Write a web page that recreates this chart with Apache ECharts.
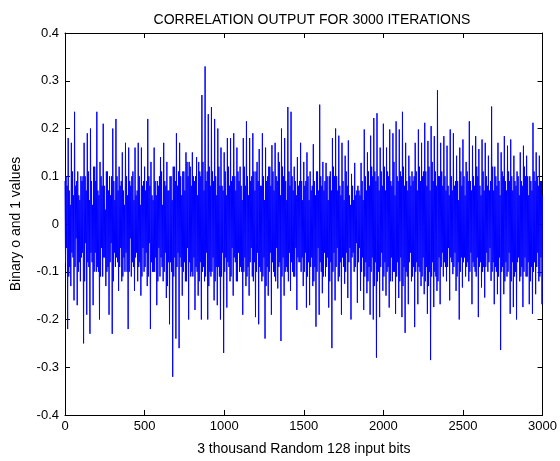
<!DOCTYPE html>
<html>
<head>
<meta charset="utf-8">
<script src="https://cdn.jsdelivr.net/npm/echarts@6/dist/echarts.min.js"></script>
<style>
html,body{margin:0;padding:0;background:#fff;}
#chart{width:560px;height:461px;}
</style>
</head>
<body>
<div id="chart"></div>
<script>
// Each block of 20 iterations is read as 6 samples:
// upper spike, core low A, core high A, core low B, core high B, lower spike
const blockLength = 20;
const samplesPerBlock = 6;
// Outer excursions (spikes): pairs of (upper, lower), one pair per block
const peaks0000 = [0.09,-0.22,0.18,-0.13,0.17,-0.16,0.235,-0.17,0.11,-0.12,0.10,-0.25,0.17,-0.19,0.19,-0.23,0.20,-0.17,0.12,-0.10,0.235,-0.20,0.13,-0.11,0.21,-0.13,0.11,-0.19,0.10,-0.23,0.20,-0.09,0.22,-0.14,0.12,-0.12,0.15,-0.10,0.17,-0.22,0.16,-0.11,0.10,-0.14,0.16,-0.12,0.17,-0.15,0.16,-0.10];
const peaks0500 = [0.12,-0.13,0.22,-0.22,0.13,-0.10,0.16,-0.17,0.09,-0.11,0.14,-0.12,0.17,-0.155,0.13,-0.21,0.10,-0.32,0.12,-0.24,0.19,-0.26,0.17,-0.15,0.11,-0.12,0.15,-0.20,0.13,-0.10,0.15,-0.18,0.10,-0.15,0.13,-0.20,0.27,-0.12,0.33,-0.20,0.23,-0.11,0.245,-0.16,0.22,-0.17,0.20,-0.20,0.16,-0.27];
const peaks1000 = [0.15,-0.175,0.18,-0.12,0.18,-0.15,0.19,-0.12,0.16,-0.10,0.12,-0.19,0.18,-0.13,0.215,-0.15,0.18,-0.11,0.19,-0.195,0.11,-0.21,0.157,-0.12,0.19,-0.24,0.16,-0.15,0.12,-0.19,0.165,-0.11,0.17,-0.135,0.15,-0.245,0.20,-0.15,0.18,-0.10,0.245,-0.14,0.235,-0.11,0.12,-0.18,0.14,-0.08,0.17,-0.13];
const peaks1500 = [0.13,-0.175,0.15,-0.17,0.11,-0.13,0.167,-0.215,0.11,-0.19,0.25,-0.145,0.13,-0.11,0.128,-0.175,0.10,-0.26,0.18,-0.16,0.20,-0.12,0.185,-0.19,0.17,-0.125,0.143,-0.155,0.175,-0.20,0.105,-0.10,0.128,-0.165,0.08,-0.14,0.128,-0.18,0.198,-0.145,0.15,-0.19,0.185,-0.20,0.222,-0.28,0.232,-0.195,0.16,-0.14];
const peaks2000 = [0.21,-0.15,0.16,-0.175,0.198,-0.12,0.19,-0.188,0.215,-0.155,0.198,-0.195,0.235,-0.228,0.17,-0.168,0.143,-0.12,0.11,-0.216,0.17,-0.168,0.198,-0.13,0.17,-0.147,0.212,-0.188,0.174,-0.285,0.205,-0.174,0.184,-0.14,0.28,-0.168,0.17,-0.11,0.184,-0.12,0.164,-0.16,0.198,-0.105,0.19,-0.14,0.143,-0.20,0.16,-0.133];
const peaks2500 = [0.177,-0.11,0.13,-0.12,0.215,-0.168,0.164,-0.10,0.184,-0.195,0.157,-0.133,0.177,-0.154,0.17,-0.10,0.143,-0.119,0.246,-0.168,0.12,-0.147,0.17,-0.264,0.15,-0.147,0.184,-0.11,0.164,-0.188,0.177,-0.174,0.143,-0.20,0.11,-0.12,0.15,-0.174,0.164,-0.11,0.143,-0.168,0.10,-0.188,0.212,-0.147,0.15,-0.12,0.143,-0.168];
// Dense core values between the spikes, first pair per block (low, high)
const coreA0000 = [-0.08,0.10,-0.11,0.07,-0.06,0.11,-0.09,0.08,-0.10,0.06,-0.07,0.09,-0.12,0.10,-0.08,0.11,-0.06,0.09,-0.10,0.12,-0.09,0.07,-0.11,0.10,-0.07,0.08,-0.10,0.11,-0.08,0.06,-0.12,0.09,-0.07,0.10,-0.09,0.08,-0.11,0.07,-0.06,0.10,-0.10,0.09,-0.08,0.11,-0.07,0.06,-0.09,0.10,-0.11,0.08];
const coreA0500 = [-0.09,0.07,-0.11,0.10,-0.08,0.06,-0.10,0.09,-0.12,0.08,-0.07,0.11,-0.10,0.09,-0.13,0.07,-0.08,0.10,-0.11,0.12,-0.09,0.08,-0.07,0.10,-0.10,0.11,-0.12,0.13,-0.08,0.12,-0.11,0.10,-0.09,0.14,-0.12,0.11,-0.10,0.13,-0.11,0.09,-0.13,0.12,-0.10,0.11,-0.12,0.10,-0.09,0.12,-0.11,0.08];
const coreA1000 = [-0.10,0.11,-0.08,0.12,-0.11,0.09,-0.07,0.10,-0.12,0.11,-0.09,0.08,-0.10,0.12,-0.11,0.10,-0.08,0.09,-0.12,0.11,-0.10,0.13,-0.09,0.08,-0.11,0.10,-0.13,0.09,-0.10,0.12,-0.08,0.11,-0.12,0.10,-0.09,0.13,-0.11,0.12,-0.10,0.09,-0.12,0.11,-0.08,0.10,-0.11,0.09,-0.07,0.08,-0.10,0.09];
const coreA1500 = [-0.10,0.08,-0.11,0.10,-0.09,0.07,-0.12,0.09,-0.10,0.11,-0.08,0.10,-0.11,0.07,-0.09,0.10,-0.12,0.11,-0.10,0.12,-0.09,0.10,-0.11,0.08,-0.07,0.09,-0.10,0.11,-0.08,0.06,-0.07,0.08,-0.09,0.06,-0.08,0.07,-0.10,0.09,-0.11,0.10,-0.12,0.11,-0.10,0.12,-0.13,0.11,-0.12,0.10,-0.09,0.11];
const coreA2000 = [-0.11,0.12,-0.10,0.11,-0.12,0.09,-0.10,0.13,-0.11,0.10,-0.12,0.11,-0.13,0.12,-0.10,0.09,-0.08,0.10,-0.11,0.09,-0.10,0.11,-0.09,0.12,-0.11,0.10,-0.12,0.11,-0.13,0.12,-0.11,0.13,-0.10,0.11,-0.12,0.10,-0.09,0.11,-0.08,0.10,-0.09,0.08,-0.07,0.10,-0.09,0.08,-0.11,0.09,-0.10,0.11];
const coreA2500 = [-0.08,0.10,-0.09,0.11,-0.10,0.09,-0.08,0.10,-0.11,0.12,-0.09,0.08,-0.10,0.11,-0.09,0.10,-0.08,0.07,-0.10,0.12,-0.09,0.10,-0.11,0.09,-0.10,0.11,-0.12,0.09,-0.10,0.11,-0.12,0.10,-0.11,0.09,-0.08,0.10,-0.11,0.09,-0.10,0.12,-0.11,0.10,-0.12,0.09,-0.10,0.11,-0.09,0.10,-0.11,0.09];
// Dense core values, second pair per block (low, high)
const coreB0000 = [-0.05,0.08,-0.09,0.04,-0.07,0.06,-0.03,0.09,-0.08,0.05,-0.06,0.10,-0.04,0.07,-0.09,0.05,-0.08,0.04,-0.06,0.09,-0.10,0.06,-0.05,0.08,-0.07,0.03,-0.09,0.07,-0.04,0.10,-0.06,0.05,-0.08,0.07,-0.05,0.09,-0.07,0.04,-0.10,0.06,-0.03,0.08,-0.09,0.05,-0.06,0.07,-0.08,0.04,-0.05,0.09];
const coreB0500 = [-0.06,0.09,-0.04,0.08,-0.10,0.05,-0.07,0.06,-0.05,0.10,-0.09,0.04,-0.06,0.08,-0.08,0.07,-0.10,0.05,-0.07,0.09,-0.06,0.11,-0.09,0.06,-0.08,0.07,-0.05,0.10,-0.11,0.08,-0.07,0.09,-0.10,0.06,-0.08,0.10,-0.09,0.07,-0.06,0.11,-0.10,0.08,-0.07,0.09,-0.09,0.06,-0.11,0.08,-0.06,0.07];
const coreB1000 = [-0.07,0.06,-0.09,0.08,-0.05,0.10,-0.08,0.07,-0.06,0.09,-0.10,0.05,-0.07,0.08,-0.09,0.06,-0.05,0.10,-0.08,0.07,-0.06,0.09,-0.10,0.08,-0.07,0.05,-0.09,0.10,-0.06,0.08,-0.10,0.07,-0.05,0.09,-0.08,0.06,-0.07,0.10,-0.09,0.05,-0.06,0.08,-0.10,0.07,-0.05,0.06,-0.08,0.09,-0.07,0.05];
const coreB1500 = [-0.06,0.09,-0.08,0.05,-0.07,0.08,-0.09,0.06,-0.05,0.07,-0.10,0.08,-0.06,0.09,-0.07,0.05,-0.08,0.07,-0.06,0.10,-0.05,0.07,-0.08,0.06,-0.09,0.05,-0.06,0.08,-0.05,0.04,-0.06,0.05,-0.04,0.07,-0.05,0.06,-0.07,0.05,-0.08,0.07,-0.09,0.08,-0.07,0.10,-0.08,0.09,-0.10,0.07,-0.06,0.08];
const coreB2000 = [-0.08,0.07,-0.09,0.10,-0.07,0.08,-0.10,0.06,-0.08,0.09,-0.07,0.10,-0.09,0.08,-0.11,0.07,-0.06,0.08,-0.09,0.10,-0.08,0.07,-0.10,0.09,-0.07,0.11,-0.09,0.08,-0.10,0.07,-0.08,0.09,-0.11,0.08,-0.07,0.10,-0.06,0.08,-0.09,0.07,-0.05,0.06,-0.08,0.07,-0.06,0.09,-0.08,0.05,-0.07,0.08];
const coreB2500 = [-0.07,0.06,-0.08,0.09,-0.06,0.07,-0.09,0.08,-0.07,0.10,-0.08,0.06,-0.09,0.07,-0.06,0.08,-0.05,0.09,-0.08,0.07,-0.10,0.08,-0.07,0.06,-0.09,0.10,-0.08,0.07,-0.06,0.09,-0.08,0.07,-0.10,0.08,-0.07,0.06,-0.09,0.08,-0.07,0.10,-0.08,0.06,-0.09,0.07,-0.08,0.09,-0.06,0.08,-0.07,0.09];
const lastValue = 0.06;

const xTicks = [0, 500, 1000, 1500, 2000, 2500, 3000];
const yTicks = ['-0.4','-0.3','-0.2','-0.1','0','0.1','0.2','0.3','0.4'];

const titleText = 'CORRELATION OUTPUT FOR 3000 ITERATIONS';
const xName = '3 thousand Random 128 input bits';
const yName = 'Binary o and 1 values';

const peakSegs = [peaks0000, peaks0500, peaks1000, peaks1500, peaks2000, peaks2500];
const coreASegs = [coreA0000, coreA0500, coreA1000, coreA1500, coreA2000, coreA2500];
const coreBSegs = [coreB0000, coreB0500, coreB1000, coreB1500, coreB2000, coreB2500];
const allValues = [];
peakSegs.forEach((pk, s) => {
  const a = coreASegs[s], b = coreBSegs[s];
  for (let k = 0; k < pk.length / 2; k++) {
    allValues.push(pk[2 * k], a[2 * k], a[2 * k + 1], b[2 * k], b[2 * k + 1], pk[2 * k + 1]);
  }
});
allValues.push(lastValue);
const xStep = blockLength / samplesPerBlock;
const seriesData = allValues.map((v, i) => [i * xStep, v]);

const chart = echarts.init(document.getElementById('chart'), null, {renderer: 'canvas'});
const font = 'Arial, "Liberation Sans", Helvetica, sans-serif';
const axisCommon = {
  type: 'value',
  splitLine: {show: false},
  axisLine: {show: true, onZero: false, lineStyle: {color: '#000', width: 1}},
  axisTick: {show: true, inside: true, length: 5, lineStyle: {color: '#000'}},
};
const xMin = xTicks[0], xMax = xTicks[xTicks.length - 1];
chart.setOption({
  animation: false,
  backgroundColor: '#fff',
  title: {
    text: titleText, left: 307, top: 8, textAlign: 'center',
    textStyle: {fontFamily: font, fontSize: 14, fontWeight: 'normal', color: '#000'}
  },
  grid: {left: 65, right: 12, top: 33, bottom: 43, containLabel: false},
  xAxis: [
    Object.assign({}, axisCommon, {
      position: 'bottom', min: xMin, max: xMax, interval: 500,
      name: xName, nameLocation: 'middle', nameGap: 27,
      nameTextStyle: {fontFamily: font, fontSize: 14, color: '#000'},
      axisLabel: {color: '#000', fontFamily: font, fontSize: 13, margin: 5,
        formatter: v => String(v)}
    }),
    Object.assign({}, axisCommon, {
      position: 'top', min: xMin, max: xMax, interval: 500,
      axisLabel: {show: false}
    })
  ],
  yAxis: [
    Object.assign({}, axisCommon, {
      position: 'left', min: -0.4, max: 0.4, interval: 0.1,
      name: yName, nameLocation: 'middle', nameGap: 42, nameRotate: 90,
      nameTextStyle: {fontFamily: font, fontSize: 14, color: '#000'},
      axisLabel: {
        color: '#000', fontFamily: font, fontSize: 13, margin: 6,
        formatter: v => yTicks[Math.round((v + 0.4) * 10)]
      }
    }),
    Object.assign({}, axisCommon, {
      position: 'right', min: -0.4, max: 0.4, interval: 0.1,
      axisLabel: {show: false}
    })
  ],
  series: [{
    type: 'line',
    xAxisIndex: 0, yAxisIndex: 0,
    data: seriesData,
    showSymbol: false, symbol: 'none',
    sampling: null,
    lineStyle: {color: '#0000ff', width: 1},
    itemStyle: {color: '#0000ff'}
  }]
});
</script>
</body>
</html>
